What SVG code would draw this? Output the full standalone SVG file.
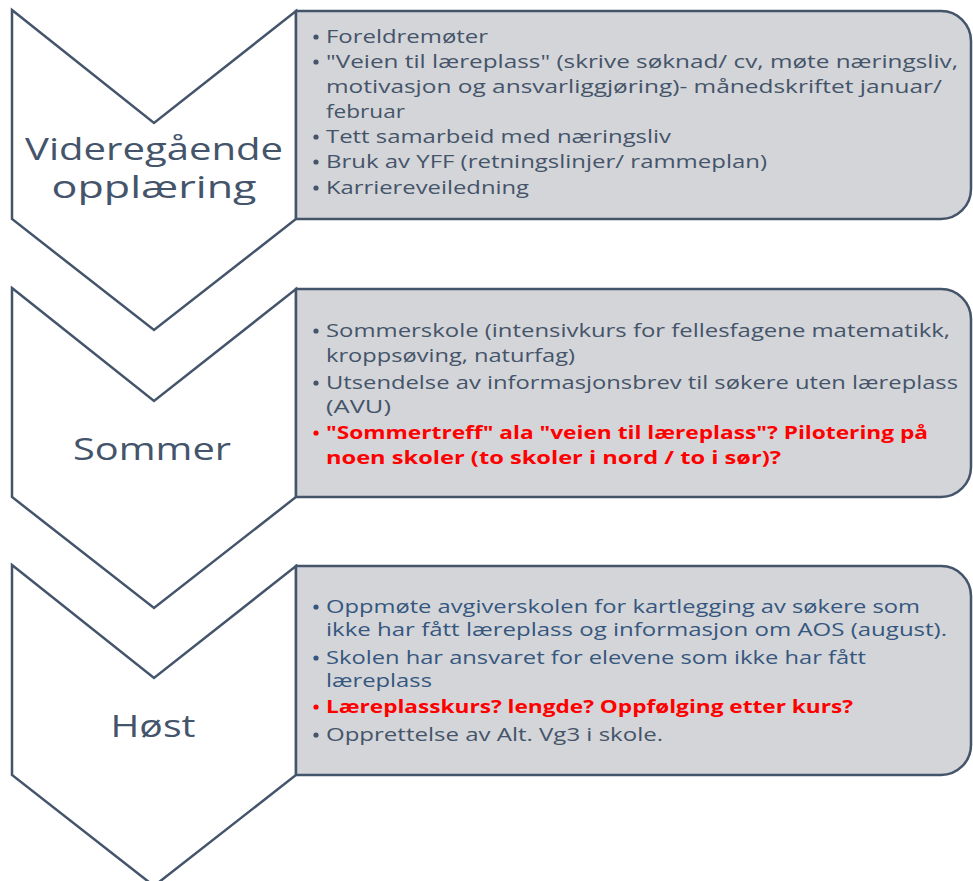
<svg xmlns="http://www.w3.org/2000/svg" width="973" height="881" viewBox="0 0 973 881">
<style>
.chev{fill:#ffffff;stroke:#44546A;stroke-width:2.5;stroke-linejoin:miter}
.box{fill:#D4D5D8;stroke:#44546A;stroke-width:2.5}
.lbl{font-family:"Open Sans","Noto Sans",sans-serif;fill:#44546A;text-anchor:middle}
.t{font-family:"Open Sans","Noto Sans",sans-serif;font-size:18.5px;fill:#44546A}
.b{fill:#44546A}
.blue{fill:#35577F}
.red{fill:#FF0000;font-weight:bold}
.rb{fill:#FF0000}
</style>
<g id="connectors"></g>
<g id="stage1">
<path class="chev" d="M12,10 L154,123 L296,11 L296,219 L154,330 L12,219 Z"/>
<text class="lbl" font-size="31" x="154" y="160" textLength="258" lengthAdjust="spacingAndGlyphs">Videregående</text>
<text class="lbl" font-size="31" x="154" y="198" textLength="205" lengthAdjust="spacingAndGlyphs">opplæring</text>
</g>
<g id="box1">
<path class="box" d="M296,11 H941 A30,30 0 0 1 971,41 V189 A30,30 0 0 1 941,219 H296 Z"/>
<circle class="b" cx="316" cy="37" r="2.6"/>
<text class="t" x="326" y="43" textLength="162" lengthAdjust="spacingAndGlyphs">Foreldremøter</text>
<circle class="b" cx="316" cy="62" r="2.6"/>
<text class="t" x="326" y="68" textLength="632" lengthAdjust="spacingAndGlyphs">"Veien til læreplass" (skrive søknad/ cv, møte næringsliv,</text>
<text class="t" x="326" y="93" textLength="616" lengthAdjust="spacingAndGlyphs">motivasjon og ansvarliggjøring)- månedskriftet januar/</text>
<text class="t" x="326" y="118" textLength="79" lengthAdjust="spacingAndGlyphs">februar</text>
<circle class="b" cx="316" cy="137" r="2.6"/>
<text class="t" x="326" y="143" textLength="345" lengthAdjust="spacingAndGlyphs">Tett samarbeid med næringsliv</text>
<circle class="b" cx="316" cy="162" r="2.6"/>
<text class="t" x="326" y="168" textLength="441" lengthAdjust="spacingAndGlyphs">Bruk av YFF (retningslinjer/ rammeplan)</text>
<circle class="b" cx="316" cy="188" r="2.6"/>
<text class="t" x="326" y="194" textLength="203" lengthAdjust="spacingAndGlyphs">Karriereveiledning</text>
</g>
<g id="stage2">
<path class="chev" d="M12,288 L154,401 L296,289 L296,497 L154,608 L12,497 Z"/>
<text class="lbl" font-size="31" x="152" y="460" textLength="158" lengthAdjust="spacingAndGlyphs">Sommer</text>
</g>
<g id="box2">
<path class="box" d="M296,289 H941 A30,30 0 0 1 971,319 V467 A30,30 0 0 1 941,497 H296 Z"/>
<circle class="b" cx="316" cy="331" r="2.6"/>
<text class="t" x="326" y="337" textLength="624" lengthAdjust="spacingAndGlyphs">Sommerskole (intensivkurs for fellesfagene matematikk,</text>
<text class="t" x="326" y="362" textLength="249" lengthAdjust="spacingAndGlyphs">kroppsøving, naturfag)</text>
<circle class="b" cx="316" cy="383" r="2.6"/>
<text class="t" x="326" y="389" textLength="632" lengthAdjust="spacingAndGlyphs">Utsendelse av informasjonsbrev til søkere uten læreplass</text>
<text class="t" x="326" y="413" textLength="65" lengthAdjust="spacingAndGlyphs">(AVU)</text>
<circle class="rb" cx="316" cy="433" r="2.6"/>
<text class="t red" x="326" y="439" textLength="602" lengthAdjust="spacingAndGlyphs">"Sommertreff" ala "veien til læreplass"? Pilotering på</text>
<text class="t red" x="326" y="464" textLength="455" lengthAdjust="spacingAndGlyphs">noen skoler (to skoler i nord / to i sør)?</text>
</g>
<g id="stage3">
<path class="chev" d="M12,565 L154,678 L296,566 L296,775 L154,886 L12,775 Z"/>
<text class="lbl" font-size="31" x="153" y="737" textLength="85" lengthAdjust="spacingAndGlyphs">Høst</text>
</g>
<g id="box3">
<path class="box" d="M296,566 H941 A30,30 0 0 1 971,596 V745 A30,30 0 0 1 941,775 H296 Z"/>
<circle class="blue" cx="316" cy="607" r="2.6"/>
<text class="t blue" x="326" y="613" textLength="594" lengthAdjust="spacingAndGlyphs">Oppmøte avgiverskolen for kartlegging av søkere som</text>
<text class="t blue" x="326" y="636" textLength="621" lengthAdjust="spacingAndGlyphs">ikke har fått læreplass og informasjon om AOS (august).</text>
<circle class="blue" cx="316" cy="658" r="2.6"/>
<text class="t blue" x="326" y="664" textLength="540" lengthAdjust="spacingAndGlyphs">Skolen har ansvaret for elevene som ikke har fått</text>
<text class="t blue" x="326" y="687" textLength="106" lengthAdjust="spacingAndGlyphs">læreplass</text>
<circle class="rb" cx="316" cy="707" r="2.6"/>
<text class="t red" x="326" y="713" textLength="527" lengthAdjust="spacingAndGlyphs">Læreplasskurs? lengde? Oppfølging etter kurs?</text>
<circle class="b" cx="316" cy="735" r="2.6"/>
<text class="t" x="326" y="741" textLength="337" lengthAdjust="spacingAndGlyphs">Opprettelse av Alt. Vg3 i skole.</text>
</g>
</svg>
